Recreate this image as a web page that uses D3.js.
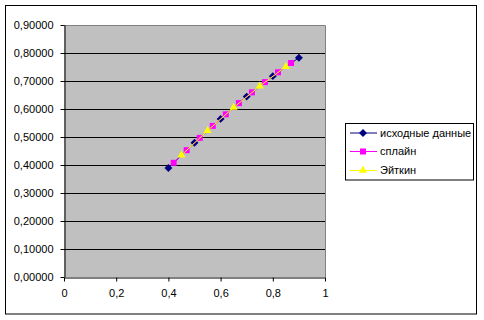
<!DOCTYPE html>
<html lang="ru">
  <head>
    <meta charset="utf-8">
    <title>sin chart</title>
    <script type="text/javascript" src="https://cdn.jsdelivr.net/npm/d3@7"></script>
    <style>
      body { margin: 0; background: #fff; }
      text { font-family: "Liberation Sans", Arial, sans-serif; font-size: 11px; fill: #000; }
    </style>
  </head>
  <body>
    <script type="text/javascript">
    // data
    var srcX = [0.4, 0.5, 0.6, 0.7, 0.8, 0.9];
    var srcY = [0.3894, 0.4794, 0.5646, 0.6442, 0.7174, 0.7833];
    var splX = [0.42, 0.47, 0.52, 0.57, 0.62, 0.67, 0.72, 0.77, 0.82, 0.87];
    var splY = [0.4078, 0.4529, 0.4969, 0.5396, 0.5810, 0.6210, 0.6594, 0.6961, 0.7311, 0.7643];
    var aitX = [0.45, 0.55, 0.65, 0.75, 0.85];
    var aitY = [0.4350, 0.5227, 0.6052, 0.6816, 0.7513];
    var seriesNames = ["исходные данные", "сплайн", "Эйткин"];
    var xTicks = [0, 0.2, 0.4, 0.6, 0.8, 1];
    var yTicks = [0, 0.1, 0.2, 0.3, 0.4, 0.5, 0.6, 0.7, 0.8, 0.9];

    var w = 484, h = 320;
    var plot = {left: 64, right: 325, top: 25, bottom: 277};

    var svg = d3.select("body").append("svg")
                .attr("width", w)
                .attr("height", h);

    // outer chart frame
    svg.append("rect")
       .attr("x", 5.5).attr("y", 5.5)
       .attr("width", 471).attr("height", 308.5)
       .attr("fill", "#fff").attr("stroke", "#000");

    var xScale = d3.scaleLinear().domain([0, 1]).range([plot.left, plot.right]);
    var yScale = d3.scaleLinear().domain([0, 0.9]).range([plot.bottom, plot.top]);

    var ru = d3.formatLocale({decimal: ",", thousands: " ", grouping: [3], currency: ["", ""]});
    var fy = ru.format(".5f");
    var fx = function(d) { return d === 0 || d === 1 ? String(d) : ru.format(".1f")(d); };

    // plot background
    svg.append("rect")
       .attr("x", plot.left).attr("y", plot.top)
       .attr("width", plot.right - plot.left).attr("height", plot.bottom - plot.top)
       .attr("fill", "#c0c0c0");

    // grid lines
    svg.append("g").selectAll("line")
       .data(yTicks.filter(function(d) { return d > 0 && d < 0.9; }))
       .enter().append("line")
       .attr("x1", plot.left).attr("x2", plot.right)
       .attr("y1", function(d) { return Math.round(yScale(d)) + 0.5; })
       .attr("y2", function(d) { return Math.round(yScale(d)) + 0.5; })
       .attr("stroke", "#000");

    // gray border top/right
    svg.append("path")
       .attr("d", "M" + plot.left + "," + (plot.top + 0.5) + "H" + (plot.right + 0.5) + "V" + plot.bottom)
       .attr("fill", "none").attr("stroke", "#808080");

    var xAxis = d3.axisBottom(xScale).tickValues(xTicks).tickFormat(fx).tickSize(4).tickSizeOuter(0).tickPadding(8);
    var yAxis = d3.axisLeft(yScale).tickValues(yTicks).tickFormat(fy).tickSize(4).tickSizeOuter(0).tickPadding(5);

    var gx = svg.append("g")
       .attr("transform", "translate(0," + (plot.bottom + 0.5) + ")")
       .call(xAxis);
    var gy = svg.append("g")
       .attr("transform", "translate(" + (plot.left + 0.5) + ",0)")
       .call(yAxis);
    [gx, gy].forEach(function(g) {
      g.attr("font-family", null).attr("font-size", null);
      g.selectAll("line, path").attr("stroke", "#000");
    });
    gy.selectAll("text").attr("dx", "-2");

    var series = [
      {x: srcX, y: srcY, color: "#000080", marker: d3.symbolDiamond2, size: 40},
      {x: splX, y: splY, color: "#ff00ff", marker: d3.symbolSquare, size: 36},
      {x: aitX, y: aitY, color: "#ffff00", marker: d3.symbolTriangle, size: 28}
    ];

    var line = d3.line()
                 .x(function(d) { return xScale(d[0]); })
                 .y(function(d) { return yScale(d[1]); });

    series.forEach(function(s) {
      var pts = s.x.map(function(v, i) { return [v, s.y[i]]; });
      svg.append("path")
         .datum(pts)
         .attr("d", line)
         .attr("fill", "none")
         .attr("stroke", s.color)
         .attr("stroke-width", 1);
      svg.append("g").selectAll("path")
         .data(pts)
         .enter().append("path")
         .attr("d", d3.symbol().type(s.marker).size(s.size))
         .attr("transform", function(d) { return "translate(" + xScale(d[0]) + "," + yScale(d[1]) + ")"; })
         .attr("fill", s.color);
    });

    // legend
    var lg = svg.append("g");
    lg.append("rect")
      .attr("x", 345.5).attr("y", 123.5)
      .attr("width", 128).attr("height", 56.5)
      .attr("fill", "#fff").attr("stroke", "#000");
    var rows = [133, 151.5, 170.5];
    series.forEach(function(s, i) {
      lg.append("line")
        .attr("x1", 350).attr("x2", 377)
        .attr("y1", rows[i]).attr("y2", rows[i])
        .attr("stroke", s.color);
      lg.append("path")
        .attr("d", d3.symbol().type(s.marker).size(s.size))
        .attr("transform", "translate(363," + rows[i] + ")")
        .attr("fill", s.color);
      lg.append("text")
        .attr("x", 380).attr("y", rows[i])
        .attr("dy", "0.35em")
        .text(seriesNames[i]);
    });
    </script>
  </body>
</html>
